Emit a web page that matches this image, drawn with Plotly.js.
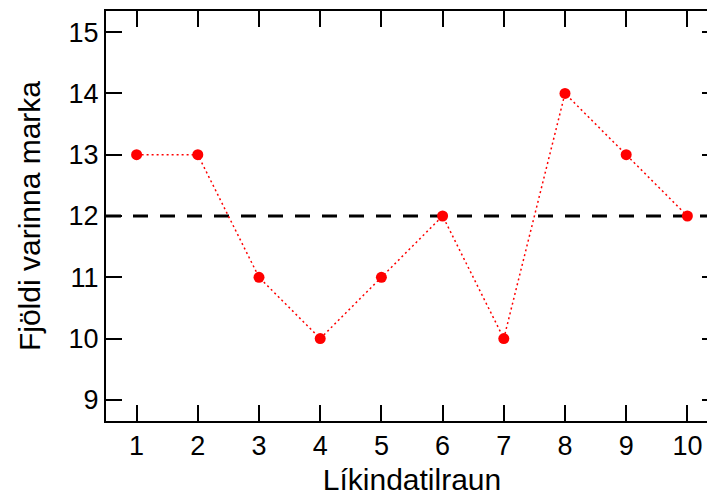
<!DOCTYPE html>
<html>
<head>
<meta charset="utf-8">
<script src="https://cdn.plot.ly/plotly-3.0.1.min.js"></script>
<style>
html, body { margin: 0; padding: 0; overflow: hidden; background: #fff; }
#chart { width: 720px; height: 497px; }
</style>
</head>
<body>
<div id="chart"></div>
<script>
const trials = [1, 2, 3, 4, 5, 6, 7, 8, 9, 10];
const goalsSaved = [13, 13, 11, 10, 11, 12, 10, 14, 13, 12];
const referenceLevel = 12;
const xTickVals = [1, 2, 3, 4, 5, 6, 7, 8, 9, 10];
const yTickVals = [9, 10, 11, 12, 13, 14, 15];
const xTitle = 'Líkindatilraun';
const yTitle = 'Fjöldi varinna marka';

const FONT = 'Liberation Sans, Arial, Helvetica, sans-serif';

const trace = {
  x: trials,
  y: goalsSaved,
  type: 'scatter',
  mode: 'lines+markers',
  line: { color: '#ff0000', width: 1.5, dash: '2px,3px' },
  marker: { color: '#ff0000', size: 11 },
  hoverinfo: 'x+y',
  showlegend: false
};

const layout = {
  width: 720,
  height: 497,
  margin: { l: 106, r: 2, t: 11, b: 76, pad: 0 },
  paper_bgcolor: '#ffffff',
  plot_bgcolor: '#ffffff',
  font: { family: FONT, size: 27, color: '#000000' },
  xaxis: {
    range: [0.5, 10.5],
    tickvals: xTickVals,
    ticktext: xTickVals.map(String),
    ticks: 'inside',
    ticklen: 16,
    tickwidth: 2,
    tickcolor: '#000',
    showline: true,
    linecolor: '#000',
    linewidth: 2,
    mirror: 'ticks',
    showgrid: false,
    zeroline: false,
    tickfont: { family: FONT, size: 27, color: '#000' },
    title: { text: xTitle, font: { family: FONT, size: 30, color: '#000' }, standoff: 9 }
  },
  yaxis: {
    range: [8.655, 15.345],
    tickvals: yTickVals,
    ticktext: yTickVals.map(String),
    ticks: 'inside',
    ticklen: 16,
    tickwidth: 2,
    tickcolor: '#000',
    showline: true,
    linecolor: '#000',
    linewidth: 2,
    mirror: 'ticks',
    showgrid: false,
    zeroline: false,
    tickfont: { family: FONT, size: 27, color: '#000' },
    title: { text: yTitle, font: { family: FONT, size: 30, color: '#000' }, standoff: 19 }
  },
  shapes: [{
    type: 'line',
    xref: 'paper', x0: 0, x1: 1,
    yref: 'y', y0: referenceLevel, y1: referenceLevel,
    line: { color: '#000', width: 3, dash: '15px,12px' },
    layer: 'below'
  }],
  showlegend: false
};

Plotly.newPlot('chart', [trace], layout, { displayModeBar: false, staticPlot: true });
</script>
</body>
</html>
